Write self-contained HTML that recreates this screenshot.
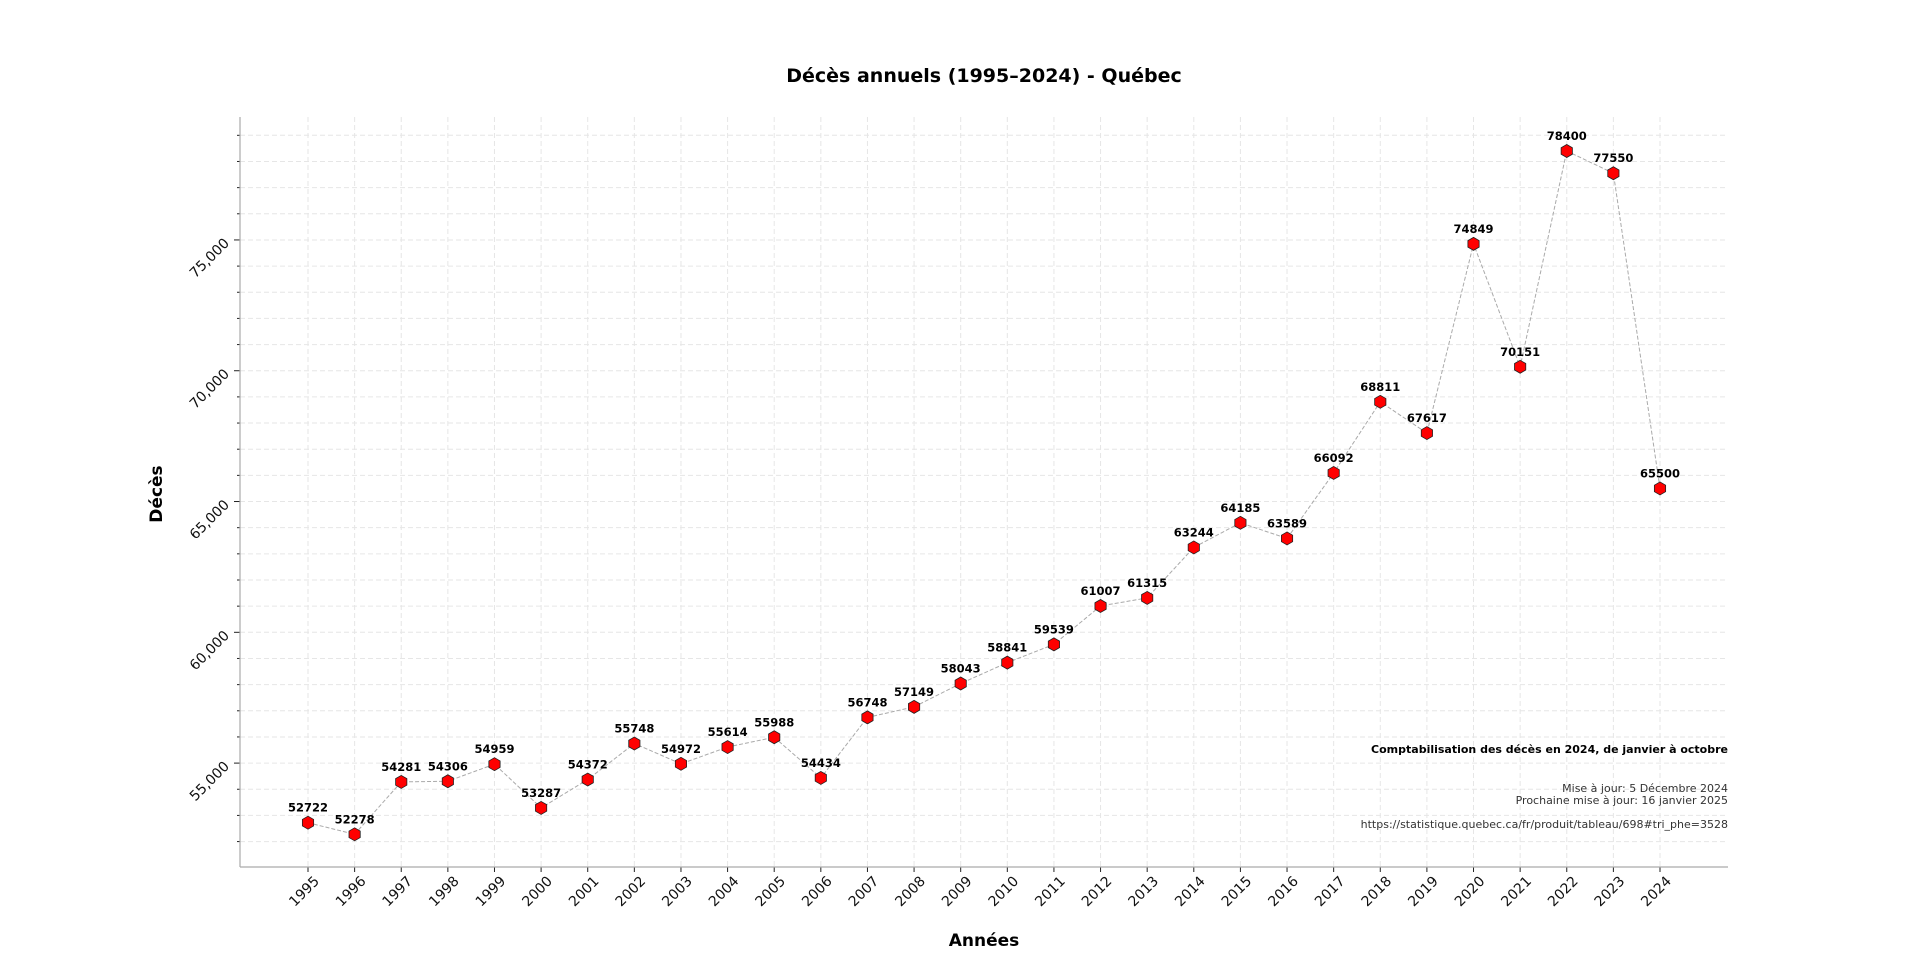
<!DOCTYPE html>
<html><head><meta charset="utf-8">
<style>
html,body{margin:0;padding:0;background:#fff;}
svg{display:block;font-family:"DejaVu Sans","Liberation Sans",sans-serif;}
</style></head>
<body>
<svg id="chart" width="1920" height="975" viewBox="0 0 1920 975">
  <text x="984" y="82" text-anchor="middle" font-size="19" font-weight="bold">Décès annuels (1995–2024) - Québec</text>
  <g id="grid"></g>
  <g id="axes"></g>
  <g id="series"></g>
  <text x="984" y="946" text-anchor="middle" font-size="17" font-weight="bold">Années</text>
  <text x="0" y="0" transform="translate(162,494) rotate(-90)" text-anchor="middle" font-size="17" font-weight="bold">Décès</text>
  <text x="1728" y="753" text-anchor="end" font-size="11" font-weight="bold">Comptabilisation des décès en 2024, de janvier à octobre</text>
  <text x="1728" y="792" text-anchor="end" font-size="11" fill="#333">Mise à jour: 5 Décembre 2024</text>
  <text x="1728" y="804" text-anchor="end" font-size="11" fill="#333">Prochaine mise à jour: 16 janvier 2025 </text>
  <text x="1728" y="828" text-anchor="end" font-size="11" fill="#333">https://statistique.quebec.ca/fr/produit/tableau/698#tri_phe=3528</text>
</svg>
<script>
const years = [1995,1996,1997,1998,1999,2000,2001,2002,2003,2004,2005,2006,2007,2008,2009,2010,2011,2012,2013,2014,2015,2016,2017,2018,2019,2020,2021,2022,2023,2024];
const deaths = [52722,52278,54281,54306,54959,53287,54372,55748,54972,55614,55988,54434,56748,57149,58043,58841,59539,61007,61315,63244,64185,63589,66092,68811,67617,74849,70151,78400,77550,65500];
const yMajorTicks = [55000,60000,65000,70000,75000];
const yTickLabels = ["55,000","60,000","65,000","70,000","75,000"];

const NS="http://www.w3.org/2000/svg";
const L=240,R=1728,T=117,B=867;
const YMIN=51028, YMAX=79700;
function xs(i){return 308+(i)*(1660-308)/29;}
function ys(v){return B-(v-YMIN)*(B-T)/(YMAX-YMIN);}
function mk(tag,attrs,parent){const e=document.createElementNS(NS,tag);for(const k in attrs)e.setAttribute(k,attrs[k]);parent.appendChild(e);return e;}
const grid=document.getElementById('grid'),axes=document.getElementById('axes'),series=document.getElementById('series');

for(let v=52000; v<=79000; v+=1000){
  const y=ys(v);
  const g=mk('line',{x1:L,x2:R,y1:y,y2:y,stroke:'#e6e6e6','stroke-width':1,'stroke-dasharray':'5,3'},grid);
  
  
  const major=v%5000===0;
  const t=mk('line',{x1:L-(major?6:3),x2:L,y1:y,y2:y,stroke:'#222','stroke-width':1},axes);
  
  
}
years.forEach((yr,i)=>{
  const x=xs(i);
  const g=mk('line',{x1:x,x2:x,y1:T,y2:B,stroke:'#e6e6e6','stroke-width':1,'stroke-dasharray':'5,3'},grid);
  
  
  const t=mk('line',{x1:x,x2:x,y1:B,y2:B+5,stroke:'#222','stroke-width':1},axes);
  
  
  const lb=mk('text',{x:0,y:0,transform:`translate(${x+12},${B+15}) rotate(-45)`,'text-anchor':'end','font-size':14,fill:'#111'},axes);
  lb.textContent=yr;
  
  
});
yMajorTicks.forEach((v,i)=>{
  const y=ys(v);
  const lb=mk('text',{x:0,y:0,transform:`translate(${L-10},${y+4}) rotate(-45)`,'text-anchor':'end','font-size':14,fill:'#111'},axes);
  lb.textContent=yTickLabels[i];
  
  
});
const ax1=mk('line',{x1:L,x2:L,y1:T,y2:B,stroke:'#aaa','stroke-width':1.2},axes);


const ax2=mk('line',{x1:L,x2:R,y1:B,y2:B,stroke:'#aaa','stroke-width':1.2},axes);



const pts=deaths.map((d,i)=>xs(i)+','+ys(d)).join(' ');
const pl=mk('polyline',{points:pts,fill:'none',stroke:'#aaa','stroke-width':1,'stroke-dasharray':'4,2'},series);


deaths.forEach((d,i)=>{
  const cx=xs(i),cy=ys(d),r=6.5;
  let p=[];
  for(let k=0;k<6;k++){const a=Math.PI/2+k*Math.PI/3;p.push((cx+r*Math.cos(a)).toFixed(2)+','+(cy+r*Math.sin(a)).toFixed(2));}
  const h=mk('polygon',{points:p.join(' '),fill:'#ff0000',stroke:'#222','stroke-width':0.8},series);
  
  
  const t=mk('text',{x:cx,y:cy-11,'text-anchor':'middle','font-size':11.5,'font-weight':'bold'},series);
  t.textContent=d;
  
  
});
</script>
</body></html>
